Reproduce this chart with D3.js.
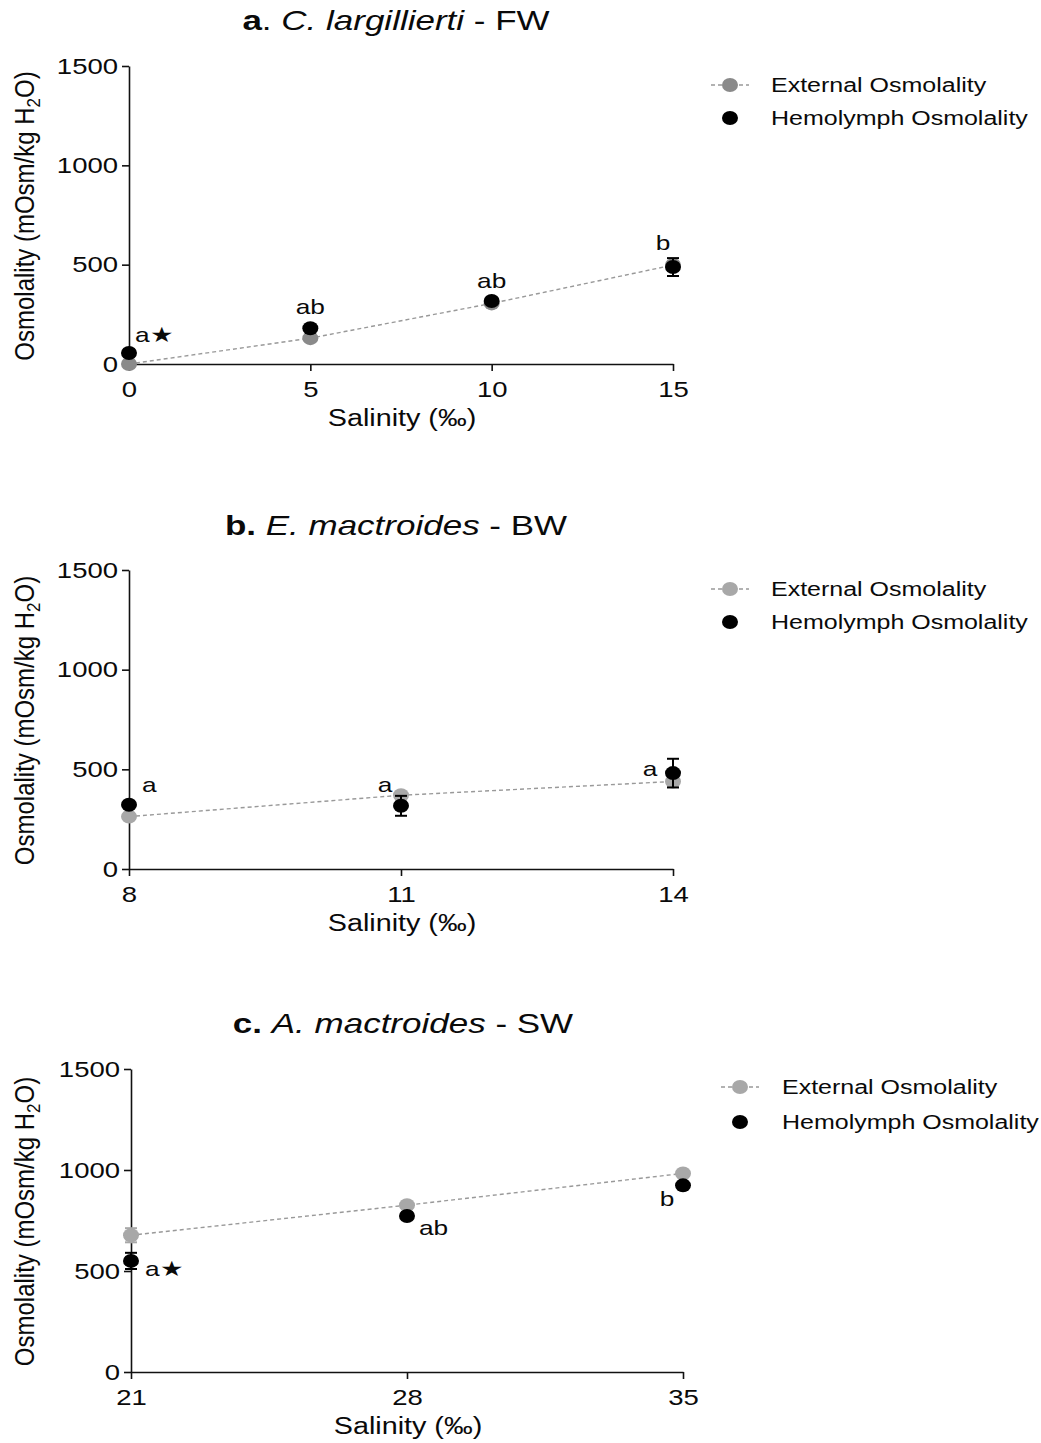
<!DOCTYPE html>
<html>
<head>
<meta charset="utf-8">
<script src="https://cdn.jsdelivr.net/npm/d3@7"></script>
<style>
  html, body { margin: 0; padding: 0; background: #fff; }
  svg { display: block; font-family: Arial, "Liberation Sans", sans-serif; }
</style>
</head>
<body>
<div id="chart"></div>
<script>
// ---- data ----
const salinityA = [0, 5, 10, 15];
const externalA = [0, 130, 305, 498];
const externalErrA = [0, 8, 8, 8];
const hemolymphA = [55, 180, 317, 488];
const hemolymphErrA = [8, 8, 8, 45];
const lettersA = ["a\u2605", "ab", "ab", "b"];

const salinityB = [8, 11, 14];
const externalB = [263, 370, 439];
const externalErrB = [8, 8, 20];
const hemolymphB = [322, 317, 481];
const hemolymphErrB = [15, 50, 72];
const lettersB = ["a", "a", "a"];

const salinityC = [21, 28, 35];
const externalC = [677, 826, 983];
const externalErrC = [35, 8, 8];
const hemolymphC = [550, 772, 924];
const hemolymphErrC = [40, 10, 10];
const lettersC = ["a\u2605", "ab", "b"];

const yTicks = [0, 500, 1000, 1500];
const legendLabels = ["External Osmolality", "Hemolymph Osmolality"];

// ---- layout ----
const W = 1041, H = 1443;
const SX = 1.25; // the source picture is stretched horizontally
const ink = "#0a0a0a";

const panels = [
  {
    bold: "a", plain1: ". ", italic: "C. largillierti", plain2: " - FW",
    sal: salinityA, ext: externalA, extErr: externalErrA, hem: hemolymphA, hemErr: hemolymphErrA, letters: lettersA,
    x0: 129, x1: 673, yTop: 66, yBot: 364, titleX: 396, titleY: 30,
    extColor: "#8a8a8a",
    legX: 730, legTextX: 771, legY: [85, 118],
    // letter offsets relative to the hemolymph point
    lab: [[6, -11, "start"], [0, -14, "middle"], [0, -13, "middle"], [-10, -17, "middle"]]
  },
  {
    bold: "b.", plain1: " ", italic: "E. mactroides", plain2: " - BW",
    sal: salinityB, ext: externalB, extErr: externalErrB, hem: hemolymphB, hemErr: hemolymphErrB, letters: lettersB,
    x0: 129, x1: 673, yTop: 570, yBot: 869, titleX: 396, titleY: 535,
    extColor: "#a8a8a8",
    legX: 730, legTextX: 771, legY: [589, 622],
    lab: [[13, -13, "start"], [-16, -14, "middle"], [-23, 3, "middle"]]
  },
  {
    bold: "c.", plain1: " ", italic: "A. mactroides", plain2: " - SW",
    sal: salinityC, ext: externalC, extErr: externalErrC, hem: hemolymphC, hemErr: hemolymphErrC, letters: lettersC,
    x0: 131, x1: 683, yTop: 1069, yBot: 1372, titleX: 403, titleY: 1033,
    extColor: "#a8a8a8",
    legX: 740, legTextX: 782, legY: [1087, 1122],
    lab: [[14, 15, "start"], [12, 19, "start"], [-16, 21, "middle"]]
  }
];

const svg = d3.select("#chart").append("svg")
  .attr("width", W).attr("height", H)
  .attr("viewBox", `0 0 ${W} ${H}`);

// text placed with a horizontal stretch
function label(g, x, y, str, size, anchor) {
  return g.append("text")
    .attr("transform", `translate(${x},${y}) scale(${SX},1)`)
    .attr("text-anchor", anchor || "start")
    .attr("font-size", size)
    .attr("fill", ink)
    .text(str);
}

function marker(g, cx, cy, color) {
  g.append("ellipse")
    .attr("cx", cx).attr("cy", cy)
    .attr("rx", 8).attr("ry", 7)
    .attr("fill", color);
}

function errorBar(g, cx, yTop, yBottom, color) {
  g.append("line").attr("x1", cx).attr("x2", cx).attr("y1", yTop).attr("y2", yBottom)
    .attr("stroke", color).attr("stroke-width", 2);
  [yTop, yBottom].forEach(yy => {
    g.append("line").attr("x1", cx - 6).attr("x2", cx + 6).attr("y1", yy).attr("y2", yy)
      .attr("stroke", color).attr("stroke-width", 2);
  });
}

panels.forEach(p => {
  const g = svg.append("g");

  const x = d3.scaleLinear().domain(d3.extent(p.sal)).range([p.x0, p.x1]);
  const y = d3.scaleLinear().domain([0, 1500]).range([p.yBot, p.yTop]);

  // title
  const t = g.append("text")
    .attr("transform", `translate(${p.titleX},${p.titleY}) scale(${SX},1)`)
    .attr("text-anchor", "middle")
    .attr("font-size", 28)
    .attr("fill", ink);
  t.append("tspan").attr("font-weight", "bold").text(p.bold);
  t.append("tspan").text(p.plain1);
  t.append("tspan").attr("font-style", "italic").text(p.italic);
  t.append("tspan").text(p.plain2);

  // axes
  const yAxis = g.append("g")
    .attr("transform", `translate(${p.x0},0)`)
    .call(d3.axisLeft(y).tickValues(yTicks).tickSize(7).tickSizeOuter(0).tickFormat(d3.format("d")));
  yAxis.selectAll("text")
    .attr("x", -11 / SX)
    .attr("transform", `scale(${SX},1)`)
    .attr("font-size", 22).attr("fill", ink).attr("font-family", null);

  const xAxis = g.append("g")
    .attr("transform", `translate(0,${p.yBot})`)
    .call(d3.axisBottom(x).tickValues(p.sal).tickSize(7).tickSizeOuter(0).tickPadding(10).tickFormat(d3.format("d")));
  xAxis.selectAll("text")
    .attr("transform", `scale(${SX},1)`)
    .attr("font-size", 22).attr("fill", ink).attr("font-family", null);

  [yAxis, xAxis].forEach(a => {
    a.select(".domain").attr("stroke", "#111").attr("stroke-width", 1.6);
    a.selectAll(".tick line").attr("stroke", "#111").attr("stroke-width", 1.6);
  });

  // axis titles
  label(g, (p.x0 + p.x1) / 2 + 1, p.yBot + 62, "Salinity  (\u2030)", 23, "middle");

  const yl = g.append("text")
    .attr("transform", `translate(34,${(p.yTop + p.yBot) / 2 + 1}) rotate(-90) scale(1,1.12)`)
    .attr("text-anchor", "middle")
    .attr("font-size", 24)
    .attr("fill", ink);
  yl.append("tspan").text("Osmolality (mOsm/kg H");
  yl.append("tspan").attr("font-size", 17).attr("dy", 5).text("2");
  yl.append("tspan").attr("dy", -5).text("O)");

  // external osmolality: dashed line, error bars, markers
  const rows = p.sal.map((s, i) => ({ s, ext: p.ext[i], extErr: p.extErr[i], hem: p.hem[i], hemErr: p.hemErr[i], letter: p.letters[i], lab: p.lab[i] }));

  g.append("path")
    .datum(rows)
    .attr("fill", "none")
    .attr("stroke", "#999")
    .attr("stroke-width", 1.4)
    .attr("stroke-dasharray", "4,3")
    .attr("d", d3.line().x(d => x(d.s)).y(d => y(d.ext)));

  rows.forEach(d => {
    if (d.extErr > 0) errorBar(g, x(d.s), y(d.ext + d.extErr), y(d.ext - d.extErr), p.extColor);
    marker(g, x(d.s), y(d.ext), p.extColor);
  });

  // hemolymph osmolality
  rows.forEach(d => {
    errorBar(g, x(d.s), y(d.hem + d.hemErr), y(d.hem - d.hemErr), "#000");
    marker(g, x(d.s), y(d.hem), "#000");
  });

  // significance letters
  rows.forEach(d => {
    label(g, x(d.s) + d.lab[0], y(d.hem) + d.lab[1], d.letter, 21, d.lab[2]);
  });

  // legend
  const lg = g.append("g");
  lg.append("line")
    .attr("x1", p.legX - 19).attr("x2", p.legX + 19)
    .attr("y1", p.legY[0]).attr("y2", p.legY[0])
    .attr("stroke", "#999").attr("stroke-width", 1.4).attr("stroke-dasharray", "4,3");
  marker(lg, p.legX, p.legY[0], p.extColor);
  marker(lg, p.legX, p.legY[1], "#000");
  legendLabels.forEach((txt, i) => {
    label(lg, p.legTextX, p.legY[i] + 7, txt, 20, "start");
  });
});
</script>
</body>
</html>
